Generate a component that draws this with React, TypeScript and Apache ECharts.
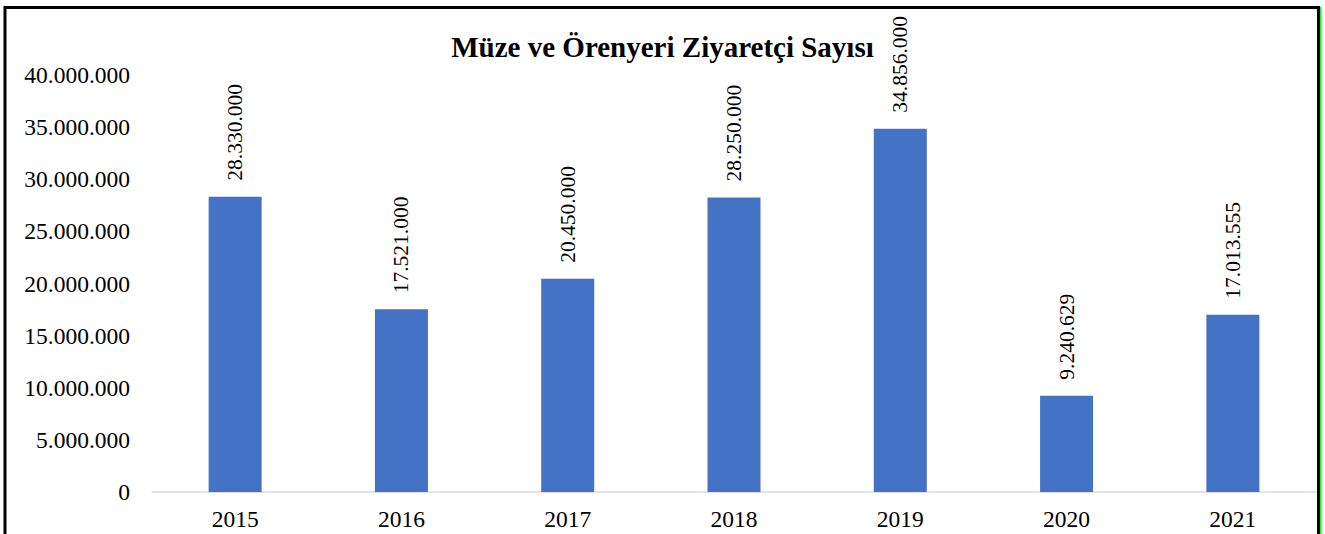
import React, { useEffect, useRef } from "react";
import * as echarts from "echarts";

const years = ["2015", "2016", "2017", "2018", "2019", "2020", "2021"];
const visitors = [28330000, 17521000, 20450000, 28250000, 34856000, 9240629, 17013555];
const chartTitle = "Müze ve Örenyeri Ziyaretçi Sayısı";

const fmt = (v: number) => String(Math.round(v)).replace(/\B(?=(\d{3})+(?!\d))/g, ".");

export default function App() {
  const ref = useRef<HTMLDivElement>(null);
  useEffect(() => {
    if (!ref.current) return;
    const chart = echarts.init(ref.current, null, { renderer: "svg" });
    const serif = "Liberation Serif";
    chart.setOption({
      animation: false,
      backgroundColor: "#ffffff",
      textStyle: { fontFamily: serif, color: "#000" },
      title: {
        text: chartTitle,
        left: "center",
        top: 27,
        textStyle: { fontFamily: serif, fontSize: 29, fontWeight: "bold", color: "#000" },
      },
      grid: { left: 152, right: 9, top: 75, bottom: 42, containLabel: false },
      xAxis: {
        type: "category",
        data: years,
        axisLine: { lineStyle: { color: "#d9d9d9", width: 1.5 } },
        axisTick: { show: false },
        axisLabel: { fontFamily: serif, fontSize: 23.5, color: "#000", margin: 15 },
      },
      yAxis: {
        type: "value",
        min: 0,
        max: 40000000,
        interval: 5000000,
        splitLine: { show: false },
        axisLine: { show: false },
        axisTick: { show: false },
        axisLabel: {
          fontFamily: serif,
          fontSize: 23.5,
          color: "#000",
          margin: 22,
          formatter: (v: number) => fmt(v),
        },
      },
      series: [
        {
          type: "bar",
          data: visitors,
          barWidth: 53,
          itemStyle: { color: "#4472C4" },
          label: {
            show: true,
            position: "top",
            rotate: 90,
            align: "left",
            verticalAlign: "middle",
            distance: 16,
            fontFamily: serif,
            fontSize: 21.5,
            fontWeight: "normal",
            color: "#000",
            formatter: (p: any) => "{v|" + fmt(p.value) + "}",
            rich: {
              v: { fontFamily: serif, fontSize: 21.5, color: "#000" },
            },
          },
        },
      ],
      graphic: [
        {
          type: "rect",
          shape: { x: 5, y: 7.5, width: 1313.5, height: 560 },
          style: { fill: "none", stroke: "#000", lineWidth: 3 },
          silent: true,
          z: 100,
        },
        {
          type: "line",
          shape: { x1: 1320.8, y1: 7, x2: 1320.8, y2: 534 },
          style: { stroke: "#00ff00", lineWidth: 1.5 },
          silent: true,
          z: 100,
        },
      ],
    });
    return () => chart.dispose();
  }, []);
  return (
    <div
      ref={ref}
      style={{ position: "fixed", left: 0, top: 0, width: 1325, height: 534 }}
    />
  );
}
